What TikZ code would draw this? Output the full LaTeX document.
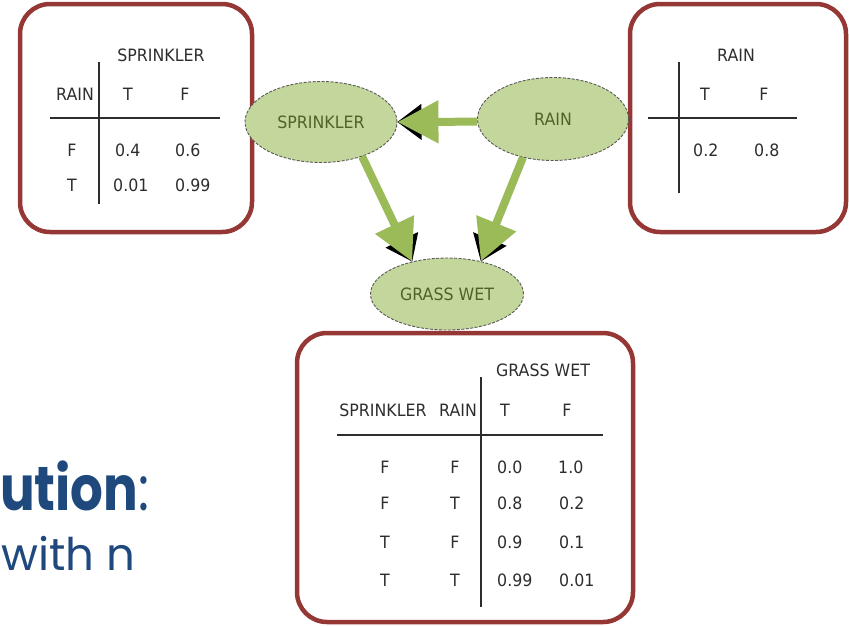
\documentclass[tikz,border=0pt]{standalone}
\usepackage{fontspec}
\usetikzlibrary{shapes.geometric,arrows.meta}
\newfontfamily\tabfont[FakeStretch=0.93]{DejaVu Sans}
\newfontfamily\popfont[FakeStretch=0.83]{Poppins}
\newfontfamily\popsub{Poppins}
\definecolor{boxred}{RGB}{149,55,53}
\definecolor{nodefill}{RGB}{195,214,155}
\definecolor{arrowgreen}{RGB}{155,187,89}
\definecolor{nodetext}{RGB}{79,98,40}
\definecolor{tabtext}{RGB}{45,45,45}
\definecolor{titleblue}{RGB}{31,73,125}
\begin{document}
\begin{tikzpicture}[x=1pt,y=-1pt,
  redbox/.style={draw=boxred,line width=4.5pt,rounded corners=30pt},
  tabline/.style={draw=tabtext,line width=1.1pt},
  cell/.style={font=\tabfont\fontsize{17}{20}\selectfont, text=tabtext, inner sep=0pt},
  bnode/.style={ellipse, fill=nodefill, draw=black!65, dash pattern=on 3pt off 1.5pt, line width=0.9pt, inner sep=0pt, font=\tabfont\fontsize{17}{20}\selectfont, text=nodetext},
  garrow/.style={draw=arrowgreen,line width=8pt,-{Triangle[length=41pt,width=41pt]}},
  barrow/.style={draw=black,line width=1pt,-{Triangle[length=24pt,width=36pt]}}]
\useasboundingbox (0,0) rectangle (849,625);

% boxes
\draw[redbox] (20,4) rectangle (252,232);
\draw[redbox] (630,4) rectangle (846,232);
\draw[redbox] (297,333) rectangle (633,622);

% top-left table
\draw[tabline] (99,62) -- (99,204);
\draw[tabline] (50,118) -- (220,118);
\node[cell] (tlhead) at (161,55) {SPRINKLER};
\node[cell] (tlrain) at (75,94) {RAIN};
\node[cell] (tlT) at (128,94) {T};
\node[cell] (tlF) at (185,94) {F};
\node[cell] (tlr1) at (72,150) {F};
\node[cell,anchor=west] (tla1) at (115,150) {0.4};
\node[cell,anchor=west] (tlb1) at (175,150) {0.6};
\node[cell] (tlr2) at (72,185) {T};
\node[cell,anchor=west] (tla2) at (113,185) {0.01};
\node[cell,anchor=west] (tlb2) at (175,185) {0.99};

% top-right table
\draw[tabline] (679,62) -- (679,193);
\draw[tabline] (648,118) -- (797,118);
\node[cell] (trhead) at (736,55) {RAIN};
\node[cell] (trT) at (705,94) {T};
\node[cell] (trF) at (764,94) {F};
\node[cell,anchor=west] (tra) at (693,150) {0.2};
\node[cell,anchor=west] (trb) at (754,150) {0.8};

% bottom table
\draw[tabline] (481,377) -- (481,607);
\draw[tabline] (337,435) -- (603,435);
\node[cell] (bhead) at (543,370) {GRASS WET};
\node[cell] (bspr) at (383,410) {SPRINKLER};
\node[cell] (brain) at (458,410) {RAIN};
\node[cell] (bT) at (505,410) {T};
\node[cell] (bF) at (567,410) {F};
\node[cell] (bs1) at (385,467) {F};
\node[cell] (br1) at (455,467) {F};
\node[cell,anchor=west] (bt1) at (497,467) {0.0};
\node[cell,anchor=west] (bf1) at (558,467) {1.0};
\node[cell] (bs2) at (385,503) {F};
\node[cell] (br2) at (455,503) {T};
\node[cell,anchor=west] (bt2) at (497,503) {0.8};
\node[cell,anchor=west] (bf2) at (559,503) {0.2};
\node[cell] (bs3) at (385,542) {T};
\node[cell] (br3) at (455,542) {F};
\node[cell,anchor=west] (bt3) at (497,542) {0.9};
\node[cell,anchor=west] (bf3) at (559,542) {0.1};
\node[cell] (bs4) at (385,580) {T};
\node[cell] (br4) at (455,580) {T};
\node[cell,anchor=west] (bt4) at (497,580) {0.99};
\node[cell,anchor=west] (bf4) at (559,580) {0.01};

% network nodes
\node[bnode, minimum width=152pt, minimum height=81pt] (spr) at (321,122) {SPRINKLER};
\node[bnode, minimum width=151pt, minimum height=83pt] (rain) at (553,119) {RAIN};
\node[bnode, minimum width=153pt, minimum height=72pt] (grass) at (447,294) {GRASS WET};

% arrows
\draw[barrow] (rain.182) -- (spr.east);
\draw[barrow] (spr.-40) -- (grass.137);
\draw[barrow] (rain.232) -- (grass.44);
\draw[garrow] (rain.182) -- (spr.east);
\draw[garrow] (spr.-40) -- (grass.137);
\draw[garrow] (rain.232) -- (grass.44);

% bottom-left text
\node[anchor=base west, inner sep=0pt, text=titleblue, font=\popfont\fontsize{62}{70}\selectfont] (title) at (0,510) {\bfseries ution\mdseries:};
\node[anchor=base west, inner sep=0pt, text=titleblue, font=\popsub\fontsize{45}{50}\selectfont] (sub) at (1,570) {with n};
\end{tikzpicture}
\end{document}
